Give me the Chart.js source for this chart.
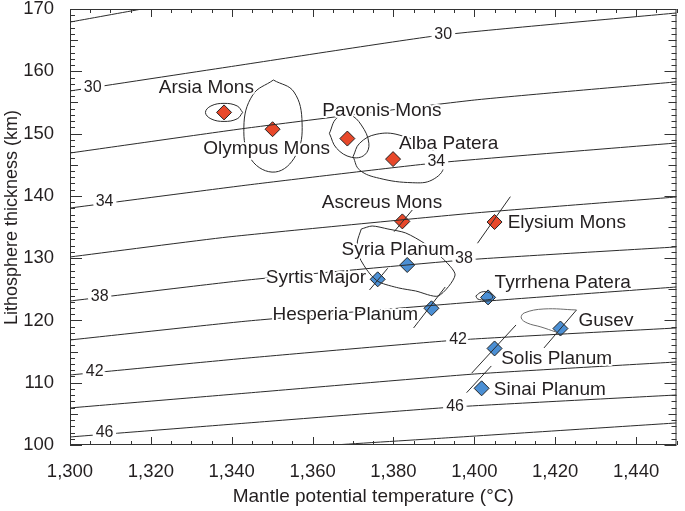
<!DOCTYPE html>
<html><head><meta charset="utf-8">
<script src="https://cdn.jsdelivr.net/npm/chart.js@4.4.1/dist/chart.umd.min.js"></script>
<style>
html,body{margin:0;padding:0;background:#fff;}
#wrap{width:685px;height:511px;position:relative;}
</style></head><body>
<div id="wrap"><canvas id="c" width="685" height="511"></canvas></div>
<script>
// ---- axis ticks / titles ----
const xTickValues = [1300,1320,1340,1360,1380,1400,1420,1440];
const yTickValues = [100,110,120,130,140,150,160,170];
const xTitle = 'Mantle potential temperature (°C)';
const yTitle = 'Lithosphere thickness (km)';

// ---- contour lines [temperature, thickness] ----
const contour28 = [[1300,167.9],[1317.8,170]];
const contour30 = [[1300,156.84],[1339.1,160.69],[1392.1,165.83],[1450,169.36]];
const contour32 = [[1300,146.88],[1344,150.9],[1400.1,155.39],[1450,158.3]];
const contour34 = [[1300,138.05],[1344,141.75],[1390.4,145.28],[1450,148.49]];
const contour36 = [[1300,130.19],[1339.1,133.4],[1400.1,137.25],[1450,139.82]];
const contour38 = [[1300,123.12],[1344,126.5],[1397.7,129.71],[1450,131.8]];
const contour40 = [[1300,116.86],[1344,119.91],[1400.1,122.96],[1450,125.37]];
const contour42 = [[1300,111.24],[1344,113.97],[1396,116.86],[1450,118.79]];
const contour44 = [[1300,105.95],[1344,108.35],[1400.1,111.4],[1450,113.33]];
const contour46 = [[1300,101.29],[1344,103.54],[1395.2,106.11],[1450,108.03]];
const contour48 = [[1365.2,100],[1392.8,101.13],[1450,103.54]];

// contour labels
const contourLabelText = ['30','30','34','34','38','38','42','42','46','46'];
const contourLabelT = [1305.62,1392.31,1308.55,1390.6,1307.33,1397.44,1306.1,1395.97,1308.55,1395.24];
const contourLabelL = [157.32,165.83,139.02,145.44,123.76,129.87,111.72,116.86,101.93,106.1];

// ---- sites ----
const siteNames = ['Arsia Mons','Olympus Mons','Pavonis Mons','Alba Patera','Ascreus Mons','Elysium Mons',
  'Syria Planum','Syrtis Major','Hesperia Planum','Tyrrhena Patera','Gusev','Solis Planum','Sinai Planum'];
const siteTemp  = [1338.1,1350.1,1368.6,1379.9,1382.2,1405.0,1383.4,1376.1,1389.4,1403.4,1421.3,1405.0,1401.8];
const siteThick = [153.4,150.7,149.2,145.9,135.9,135.8,128.9,126.6,121.95,123.7,118.7,115.5,109.1];
const siteType  = ['volcano','volcano','volcano','volcano','volcano','volcano',
  'terrain','terrain','terrain','terrain','terrain','terrain','terrain'];
const labelAnchorT = [1321.98,1332.97,1362.39,1381.39,1362.27,1408.25,1367.16,1348.43,1350.06,1405.01,1425.76,1406.64,1404.83];
const labelAnchorL = [157.43,147.6,153.71,148.33,138.86,135.76,131.31,126.77,120.87,126.12,119.96,113.92,108.83];

// ---- uncertainty outlines / segments ----
const arsiaOutline = [[1342.7,153.4],[1341.35,154.43],[1338.1,154.85],[1334.85,154.43],[1333.5,153.4],[1334.85,152.37],[1338.1,151.95],[1341.35,152.37],[1342.7,153.4]];
const olympusOutline = [[1350.3,158.6],[1355.4,156.67],[1357.4,151.7],[1355.9,146.56],[1350.8,143.83],[1344.9,145.76],[1343.0,151.06],[1345.2,156.2],[1350.3,158.6]];
const pavonisOutline = [[1364.15,150.04],[1365.93,152.45],[1369.18,152.98],[1372.04,151.38],[1373.92,148.44],[1372.85,146.56],[1369.6,146.19],[1365.93,147.64],[1364.15,150.04]];
const albaOutline = [[1370.01,146.29],[1371.62,148.44],[1375.7,149.88],[1381.39,149.77],[1389.55,147.36],[1392.38,144.68],[1389.55,142.55],[1384.66,142.11],[1376.51,142.82],[1371.62,144.15],[1370.01,146.29]];
const syriaOutline = [[1372.04,134.68],[1374.73,135.16],[1378.63,134.68],[1383.03,134.04],[1387.91,132.27],[1392.06,130.03],[1395.24,127.3],[1391.09,123.93],[1385.47,124.73],[1381.32,125.21],[1376.43,126.17],[1373.99,127.62],[1371.55,130.19],[1371.06,132.59],[1372.04,134.68]];
const tyrrhenaOutline = [[1400.37,123.93],[1401.83,124.57],[1403.79,124.41],[1404.52,123.6],[1402.81,123.28],[1400.85,123.44],[1400.37,123.93]];
const gusevLoop = [[1425.27,121.68],[1417.22,121.84],[1412.33,121.2],[1411.6,120.39],[1413.06,119.59],[1416.48,118.95],[1420.15,118.15]];
const gusevSeg = [[1417.22,115.58],[1425.27,121.68]];
const ascreusSeg = [[1380.17,134.25],[1384.66,137.73]];
const elysiumSeg = [[1400.78,132.39],[1408.91,139.87]];
const syrtisSeg = [[1374.07,124.89],[1378.57,128.37]];
const hesperiaSeg = [[1384.98,118.79],[1392.8,125.37]];
const solisSeg = [[1399.32,111.52],[1410.31,119.27]];
const sinaiSeg = [[1398.09,108.4],[1404.2,112.69]];

// ---- build ----
const FONT = '"Liberation Sans", Arial, Helvetica, sans-serif';
const INK = '#231f20';
Chart.defaults.font.family = FONT;
const toPts = a => a.map(p => ({x:p[0], y:p[1]}));
function lineDs(arr, tension, color){
  return {type:'scatter', data: toPts(arr), showLine:true, pointRadius:0, pointHoverRadius:0,
    borderColor: color || '#2b2b2b', borderWidth:1, tension: tension || 0, fill:false};
}
function siteDs(type, fill){
  const d = [];
  siteNames.forEach((n,i)=>{ if(siteType[i]===type) d.push({x:siteTemp[i], y:siteThick[i]}); });
  return {type:'scatter', data:d, pointStyle:'rectRot', pointRadius:7.5, pointHoverRadius:7.5,
    backgroundColor:fill, borderColor:'#222', borderWidth:1, showLine:false};
}

const contours = [contour28,contour30,contour32,contour34,contour36,contour38,contour40,contour42,contour44,contour46,contour48];
const datasets = [];
contours.forEach(c => datasets.push(lineDs(c, 0.15)));
[arsiaOutline, olympusOutline, pavonisOutline, albaOutline].forEach(c => datasets.push(lineDs(c, 0.4)));
datasets.push(lineDs(syriaOutline, 0.25));
datasets.push(lineDs(tyrrhenaOutline, 0.4));
datasets.push(lineDs(gusevLoop, 0.4, '#6b6b6b'));
[gusevSeg, ascreusSeg, elysiumSeg, syrtisSeg, hesperiaSeg, solisSeg, sinaiSeg].forEach(c => datasets.push(lineDs(c, 0)));
datasets.push(siteDs('volcano', '#e8482a'));
datasets.push(siteDs('terrain', '#4b8fd4'));

const frameTicks = {
  id:'frameTicks',
  afterDatasetsDraw(chart){
    const {ctx, chartArea:a, scales:{x,y}} = chart;
    ctx.save();
    ctx.strokeStyle = '#333'; ctx.lineWidth = 1;
    ctx.strokeRect(a.left+0.5, a.top+0.5, a.right-a.left-1, a.bottom-a.top-1);
    ctx.beginPath();
    for (let v = 1300; v <= 1450; v += 5){
      const px = Math.round(x.getPixelForValue(v)) + 0.5;
      const len = (v % 20 === 0) ? 8 : 4;
      ctx.moveTo(px, a.bottom); ctx.lineTo(px, a.bottom - len);
      ctx.moveTo(px, a.top); ctx.lineTo(px, a.top + len);
    }
    for (let v = 100; v <= 170; v += 1){
      const py = Math.round(y.getPixelForValue(v)) + 0.5;
      const len = (v % 10 === 0) ? 12 : ((v % 5 === 0) ? 8 : 5);
      ctx.moveTo(a.left, py); ctx.lineTo(a.left + len, py);
      ctx.moveTo(a.right, py); ctx.lineTo(a.right - len, py);
    }
    ctx.stroke();
    ctx.restore();
  }
};

const textLayer = {
  id:'textLayer',
  afterDatasetsDraw(chart){
    const {ctx, scales:{x,y}} = chart;
    ctx.save();
    ctx.lineJoin = 'round';
    ctx.textBaseline = 'middle';
    // contour labels
    ctx.font = '16px ' + FONT;
    ctx.textAlign = 'center';
    contourLabelText.forEach((t,i)=>{
      const px = x.getPixelForValue(contourLabelT[i]), py = y.getPixelForValue(contourLabelL[i]);
      ctx.strokeStyle = '#fff'; ctx.lineWidth = 7; ctx.strokeText(t, px, py);
      ctx.fillStyle = INK; ctx.fillText(t, px, py);
    });
    // site labels
    ctx.font = '19px ' + FONT;
    ctx.textAlign = 'left';
    siteNames.forEach((t,i)=>{
      const px = x.getPixelForValue(labelAnchorT[i]), py = y.getPixelForValue(labelAnchorL[i]);
      ctx.strokeStyle = '#fff'; ctx.lineWidth = 4; ctx.strokeText(t, px, py);
      ctx.fillStyle = INK; ctx.fillText(t, px, py);
    });
    // axis titles
    const a = chart.chartArea;
    ctx.fillStyle = INK;
    ctx.textAlign = 'center';
    ctx.font = '19px ' + FONT;
    ctx.fillText(xTitle, (a.left + a.right)/2, 497);
    ctx.translate(12, 217.5);
    ctx.rotate(-Math.PI/2);
    ctx.font = '18px ' + FONT;
    ctx.fillText(yTitle, 0, 0);
    ctx.restore();
  }
};

new Chart(document.getElementById('c'), {
  type:'scatter',
  data:{datasets},
  options:{
    responsive:false, animation:false,
    layout:{padding:{top:9, right:3, left:0, bottom:0}},
    plugins:{legend:{display:false}, tooltip:{enabled:false}},
    scales:{
      x:{type:'linear', min:1300, max:1450,
        grid:{display:false}, border:{display:false},
        afterBuildTicks: s => { s.ticks = xTickValues.map(v => ({value:v})); },
        afterFit: s => { s.height = 66; s.paddingLeft = 0; s.paddingRight = 0; },
        ticks:{autoSkip:false, maxRotation:0, padding:8, color:INK, font:{size:18.5},
          callback: v => v.toLocaleString('en-US')}},
      y:{type:'linear', min:100, max:170,
        grid:{display:false}, border:{display:false},
        afterBuildTicks: s => { s.ticks = yTickValues.map(v => ({value:v})); },
        afterFit: s => { s.width = 70; s.paddingTop = 0; s.paddingBottom = 0; },
        ticks:{autoSkip:false, padding:8, color:INK, font:{size:18.5, lineHeight:1}}}
    }
  },
  plugins:[frameTicks, textLayer]
});
</script>
</body></html>
